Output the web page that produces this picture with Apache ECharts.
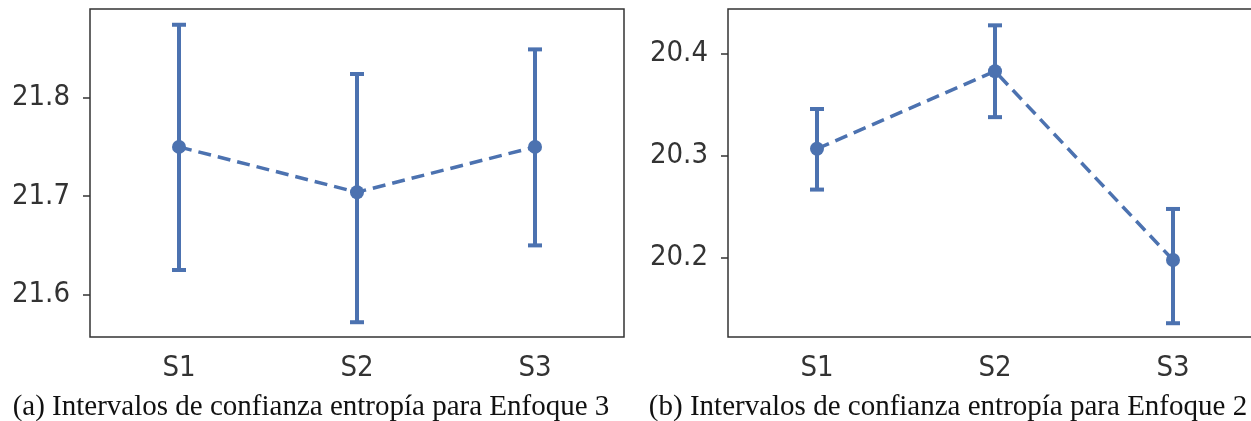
<!DOCTYPE html>
<html>
<head>
<meta charset="utf-8">
<script src="https://cdn.jsdelivr.net/npm/echarts@6/dist/echarts.min.js"></script>
<style>
html, body { margin: 0; padding: 0; background: #fff; }
#chart { width: 1251px; height: 421px; }
</style>
</head>
<body>
<div id="chart"></div>
<script>
var categories = ['S1', 'S2', 'S3'];

// Enfoque 3 (left)
var meanA = [21.750, 21.704, 21.750];
var lowA = [21.625, 21.572, 21.650];
var highA = [21.874, 21.824, 21.849];
var ticksA = [21.6, 21.7, 21.8];

// Enfoque 2 (right)
var meanB = [20.307, 20.383, 20.198];
var lowB = [20.267, 20.338, 20.136];
var highB = [20.346, 20.428, 20.248];
var ticksB = [20.2, 20.3, 20.4];

var captionA = '(a) Intervalos de confianza entropía para Enfoque 3';
var captionB = '(b) Intervalos de confianza entropía para Enfoque 2';

var blue = '#4c72b0';
var dark = '#333';
var tickFont = "'DejaVu Sans Condensed', 'DejaVu Sans', sans-serif";

function errData(low, high) {
	var res = [];
	for (var i = 0; i < low.length; i++) {
		res.push([i, low[i], high[i]]);
	}
	return res;
}

function renderErr(params, api) {
	var lo = api.coord([api.value(0), api.value(1)]);
	var hi = api.coord([api.value(0), api.value(2)]);
	var cap = 7;
	var st = { stroke: blue, lineWidth: 4 };
	return {
		type: 'group',
		children: [
			{ type: 'line', shape: { x1: lo[0], y1: lo[1], x2: hi[0], y2: hi[1] }, style: st },
			{ type: 'line', shape: { x1: lo[0] - cap, y1: lo[1], x2: lo[0] + cap, y2: lo[1] }, style: st },
			{ type: 'line', shape: { x1: hi[0] - cap, y1: hi[1], x2: hi[0] + cap, y2: hi[1] }, style: st }
		]
	};
}

function xAx(idx) {
	return {
		type: 'category',
		gridIndex: idx,
		data: categories,
		axisLine: { show: false },
		axisTick: { alignWithLabel: true, length: 7, lineStyle: { color: dark, width: 1.5 } },
		axisLabel: { color: dark, fontSize: 29, fontFamily: tickFont, margin: 17 },
		splitLine: { show: false }
	};
}

function yAx(idx, min, max, ticks) {
	return {
		type: 'value',
		gridIndex: idx,
		min: min,
		max: max,
		axisLine: { show: false },
		axisTick: { show: true, length: 7, customValues: ticks, lineStyle: { color: dark, width: 1.5 } },
		axisLabel: { color: dark, fontSize: 29, fontFamily: tickFont, margin: 20, customValues: ticks,
			formatter: function(v) { return v.toFixed(1); } },
		splitLine: { show: false }
	};
}

var capStyle = { fontFamily: 'Liberation Serif', fontSize: 29, fill: '#111', textAlign: 'center', textVerticalAlign: 'middle' };

var chart = echarts.init(document.getElementById('chart'));

chart.setOption({
	animation: false,
	backgroundColor: '#fff',
	graphic: [
		{ type: 'text', x: 311, y: 407, style: Object.assign({ text: captionA }, capStyle) },
		{ type: 'text', x: 948, y: 407, style: Object.assign({ text: captionB }, capStyle) }
	],
	grid: [
		{ left: 90, top: 9, width: 534, height: 328, outerBoundsMode: 'none', show: true, borderColor: dark, borderWidth: 1.5 },
		{ left: 728, top: 9, width: 534, height: 328, outerBoundsMode: 'none', show: true, borderColor: dark, borderWidth: 1.5 }
	],
	xAxis: [xAx(0), xAx(1)],
	yAxis: [yAx(0, 21.557, 21.890, ticksA), yAx(1, 20.1225, 20.444, ticksB)],
	series: [{
		type: 'custom', xAxisIndex: 0, yAxisIndex: 0,
		renderItem: renderErr, data: errData(lowA, highA), z: 2
	}, {
		type: 'line', xAxisIndex: 0, yAxisIndex: 0, data: meanA,
		symbol: 'circle', symbolSize: 14,
		lineStyle: { color: blue, width: 3.5, type: [13, 7] },
		itemStyle: { color: blue }, z: 3
	}, {
		type: 'custom', xAxisIndex: 1, yAxisIndex: 1,
		renderItem: renderErr, data: errData(lowB, highB), z: 2
	}, {
		type: 'line', xAxisIndex: 1, yAxisIndex: 1, data: meanB,
		symbol: 'circle', symbolSize: 14,
		lineStyle: { color: blue, width: 3.5, type: [13, 7] },
		itemStyle: { color: blue }, z: 3
	}]
});
</script>
</body>
</html>
